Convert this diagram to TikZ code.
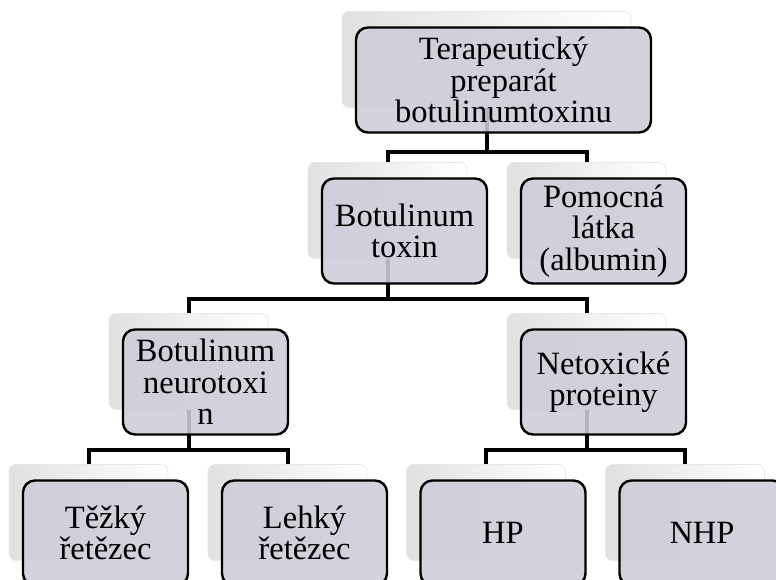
\documentclass[tikz,border=0pt]{standalone}
\usepackage{fontspec}
\setmainfont{Liberation Serif}
\definecolor{boxfill}{RGB}{204,205,216}
\begin{document}
\begin{tikzpicture}[x=1pt,y=-1pt,
    back/.style={rounded corners=7pt,draw=gray!18,line width=0.8pt,left color=gray!24,right color=white,inner sep=0pt,minimum width=159pt,minimum height=96pt},
    front/.style={rounded corners=12pt,draw=black,line width=2.4pt,fill=boxfill,fill opacity=0.88,text opacity=1,inner sep=0pt,align=center,minimum width=165pt,minimum height=105pt,font=\fontsize{32.5}{31.5}\selectfont},
    conn/.style={line width=4pt}]
\clip (0,0) rectangle (776,580);

% back layer of each box
\node[back,minimum width=289pt] (Tb) at (486.5,59.5) {};
\node[back] (Toxb) at (387.5,210.5) {};
\node[back] (Pomb) at (586.5,210.5) {};
\node[back] (Bntb) at (188.5,361.5) {};
\node[back] (Netb) at (586.5,361.5) {};
\node[back] (Tezb) at (88.5,512.5) {};
\node[back] (Lehb) at (287.5,512.5) {};
\node[back] (Hpb) at (486,512.5) {};
\node[back] (Nhpb) at (685,512.5) {};

% connectors
\begin{scope}[conn]
    \draw (Tb.south) -- ++(0,44) -| (Toxb.north);
    \draw (Tb.south) -- ++(0,44) -| (Pomb.north);
    \draw (Toxb.south) -- ++(0,40) -| (Bntb.north);
    \draw (Toxb.south) -- ++(0,40) -| (Netb.north);
    \draw (Bntb.south) -- ++(0,40) -| (Tezb.north);
    \draw (Bntb.south) -- ++(0,40) -| (Lehb.north);
    \draw (Netb.south) -- ++(0,40) -| (Hpb.north);
    \draw (Netb.south) -- ++(0,40) -| (Nhpb.north);
\end{scope}

% front layer with the texts
\node[front,minimum width=295pt] (T) at ([shift={(17,20.5)}]Tb) {Terapeutický\\preparát\\botulinumtoxinu};
\node[front] (Tox) at ([shift={(17,20.5)}]Toxb) {Botulinum\\toxin};
\node[front] (Pom) at ([shift={(17,20.5)}]Pomb) {Pomocná\\látka\\(albumin)};
\node[front] (Bnt) at ([shift={(17,20.5)}]Bntb) {Botulinum\\neurotoxi\\n};
\node[front] (Net) at ([shift={(17,20.5)}]Netb) {Netoxické\\proteiny};
\node[front] (Tez) at ([shift={(17,20.5)}]Tezb) {Těžký\\řetězec};
\node[front] (Leh) at ([shift={(17,20.5)}]Lehb) {Lehký\\řetězec};
\node[front] (Hp) at ([shift={(17,20.5)}]Hpb) {HP};
\node[front] (Nhp) at ([shift={(17,20.5)}]Nhpb) {NHP};
\end{tikzpicture}
\end{document}
